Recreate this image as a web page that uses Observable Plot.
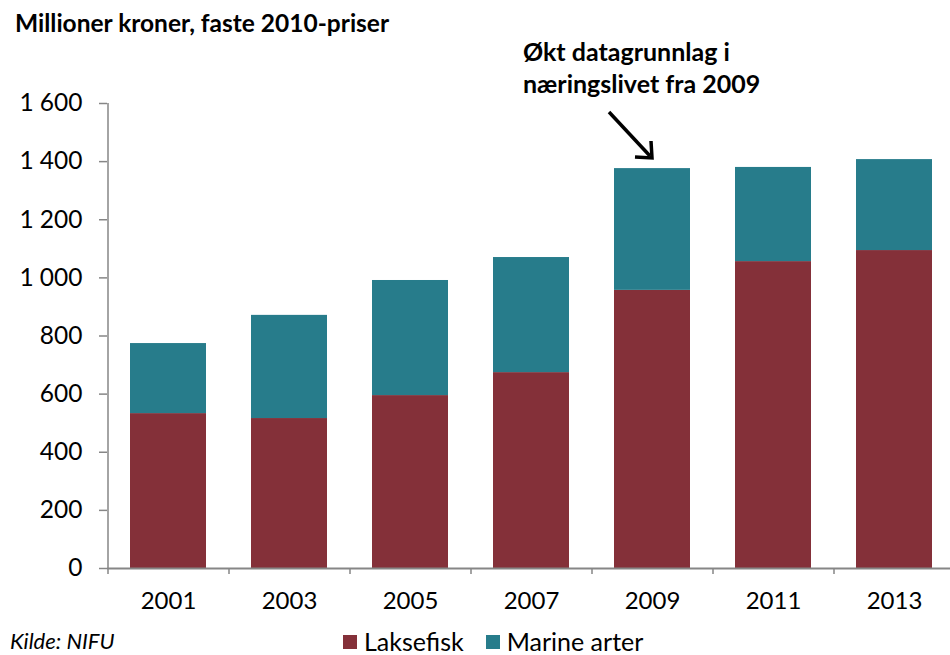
<!DOCTYPE html>
<html>
<head>
<meta charset="utf-8">
<script src="https://cdn.jsdelivr.net/npm/d3@7"></script>
<script src="https://cdn.jsdelivr.net/npm/@observablehq/plot@0.6"></script>
<style>
  body { margin: 0; background: #fff; font-family: Lato, "Open Sans", sans-serif; }
  #wrap { position: relative; width: 950px; height: 655px; overflow: hidden; }
  #title { position: absolute; left: 15px; top: 8px; font-weight: bold; font-size: 24.5px; line-height: 30px; color: #000; white-space: nowrap; }
  #note { position: absolute; left: 523px; top: 35px; font-weight: bold; font-size: 25px; line-height: 32px; color: #000; white-space: nowrap; }
  #chart { position: absolute; left: 0; top: 40px; }
  #arrow { position: absolute; left: 0; top: 0; }
  #source { position: absolute; left: 10px; top: 628px; font-style: italic; font-size: 22px; line-height: 26px; color: #000; }
  #legend { position: absolute; left: 343px; top: 626px; font-size: 25px; line-height: 30px; color: #000; display: flex; align-items: center; white-space: nowrap; }
  .sw { display: inline-block; width: 14px; height: 14px; margin-right: 7px; position: relative; top: 1px; }
</style>
</head>
<body>
<div id="wrap">
  <div id="title">Millioner kroner, faste 2010-priser</div>
  <div id="note">Økt datagrunnlag i<br>næringslivet fra 2009</div>
  <div id="chart"></div>
  <svg id="arrow" width="950" height="655">
    <line x1="609" y1="112" x2="650" y2="156" stroke="#000" stroke-width="3.5"/>
    <polyline points="635,157 652,158 651,141" fill="none" stroke="#000" stroke-width="3.5" stroke-linejoin="miter"/>
  </svg>
  <div id="source">Kilde: NIFU</div>
  <div id="legend">
    <span class="sw" style="background:#843039"></span><span>Laksefisk</span>
    <span class="sw" style="background:#277C8B;margin-left:22px"></span><span>Marine arter</span>
  </div>
</div>
<script>
const years = ["2001", "2003", "2005", "2007", "2009", "2011", "2013"];
const laksefisk = [533, 516, 595, 674, 957, 1056, 1094];
const marineTotal = [774, 871, 991, 1070, 1376, 1380, 1407];
const seriesNames = ["Laksefisk", "Marine arter"];
const colors = ["#843039", "#277C8B"];
const yTicks = [0, 200, 400, 600, 800, 1000, 1200, 1400, 1600];

const data = [];
years.forEach((y, i) => {
  data.push({year: y, series: seriesNames[0], value: laksefisk[i]});
  data.push({year: y, series: seriesNames[1], value: marineTotal[i] - laksefisk[i]});
});

const W = 950, H = 585;
const left = 107, right = 954;
const step = (right - left) / years.length;
const fmt = d => d3.format(",")(d).replace(/,/g, " ");

const chart = Plot.plot({
  width: W,
  height: H,
  marginLeft: left,
  marginRight: 0,
  marginTop: 63,
  marginBottom: 57,
  style: {fontFamily: "Lato, 'Open Sans', sans-serif", fontSize: "24px", color: "#000", background: "transparent", overflow: "visible"},
  x: {domain: years, range: [left, right], paddingInner: 0.372, paddingOuter: 0.186, axis: null},
  y: {domain: [0, 1600], axis: null},
  color: {domain: seriesNames, range: colors},
  marks: [
    Plot.barY(data, {x: "year", y: "value", fill: "series", order: seriesNames}),
    Plot.axisY({ticks: yTicks, tickFormat: fmt, tickSize: 8, tickPadding: 17, stroke: "#868686", strokeWidth: 1.5, fontSize: 24.5, label: null}),
    Plot.axisX({tickSize: 0, tickPadding: 23, fontSize: 24, label: null}),
    Plot.ruleY([0], {stroke: "#868686", strokeWidth: 2}),
    Plot.ruleX([years[0]], {x: d => d, dx: -step / 2, y1: 0, y2: 1600, stroke: "#868686", strokeWidth: 1.5}),
    Plot.ruleX(years, {x: d => d, dx: -step / 2, y1: -21, y2: 0, stroke: "#868686", strokeWidth: 1.5})
  ]
});
document.getElementById("chart").appendChild(chart);
</script>
</body>
</html>
